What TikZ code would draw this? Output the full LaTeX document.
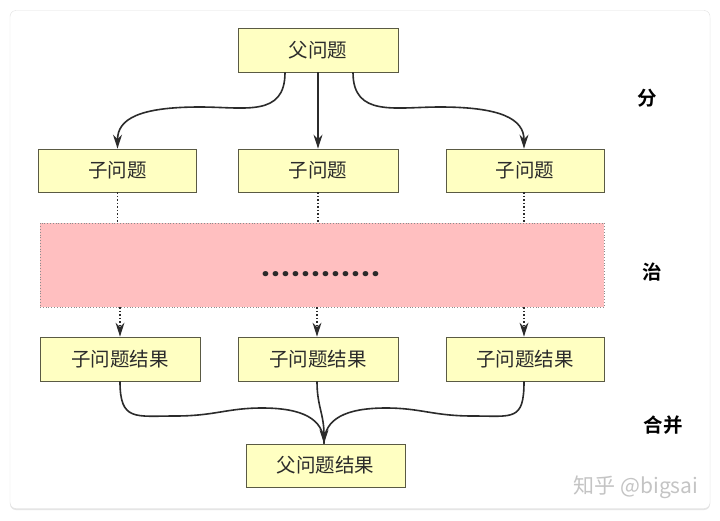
\documentclass[tikz,border=0pt]{standalone}
\usepackage{fontspec}
\newfontfamily\cjk{Noto Sans CJK SC}[BoldFont={Noto Sans CJK SC Bold}]
\newfontfamily\dotfont{Poppins}[BoldFont={Poppins Bold}]
\usetikzlibrary{arrows.meta,shadows,calc}
\definecolor{boxfill}{HTML}{FFFFC2}
\definecolor{boxline}{HTML}{5A5A44}
\definecolor{pinkfill}{HTML}{FFBFC0}
\definecolor{txt}{HTML}{2B2B2B}
\definecolor{wm}{HTML}{C4C4C4}
\newcommand\sdot{\makebox[10pt]{.}}
\tikzset{
  x=1pt, y=-1pt,
  probbox/.style={draw=boxline, line width=0.8pt, fill=boxfill, minimum height=44pt,
    inner sep=0pt, font=\cjk\fontsize{19.5}{19.5}\selectfont, text=txt},
  sidelabel/.style={font=\cjk\bfseries\fontsize{19.5}{19.5}\selectfont, text=black},
  conn/.style={line width=1.6pt, draw=txt, -{Stealth[length=14pt,width=9pt]}},
  dotconn/.style={line width=1.5pt, draw=txt, dotted},
  dotarrow/.style={line width=1.5pt, draw=txt, dotted, -{Stealth[length=14pt,width=9pt,line width=0pt]}},
}
\begin{document}
\begin{tikzpicture}
\useasboundingbox (0,0) rectangle (720,520);
\fill[white] (0,0) rectangle (720,520);
\node[draw=black!12, fill=white, rounded corners=6pt, minimum width=700pt, minimum height=498pt,
  drop shadow={shadow xshift=0pt, shadow yshift=-1.5pt, opacity=0.25, fill=black!40}] (card) at (360,259.5) {};

\node[probbox, minimum width=160pt] (top) at (318,50) {父问题};
\node[probbox, minimum width=158pt, minimum height=43pt] (s1) at (117.5,170.5) {子问题};
\node[probbox, minimum width=160pt, minimum height=43pt] (s2) at (318,170.5) {子问题};
\node[probbox, minimum width=158pt, minimum height=43pt] (s3) at (525,170.5) {子问题};

\node[draw=black!45, dotted, line width=0.8pt, fill=pinkfill, minimum width=564pt, minimum height=84pt,
  inner sep=0pt] (mid) at (322,265) {};
\node[font=\dotfont\bfseries\fontsize{28}{28}\selectfont, text=txt, inner sep=0pt, anchor=base] (dots) at (320.5,276)
  {\sdot\sdot\sdot\sdot\sdot\sdot\sdot\sdot\sdot\sdot\sdot\sdot};

\node[probbox, minimum width=160pt] (r1) at (120,359) {子问题结果};
\node[probbox, minimum width=160pt] (r2) at (318,359) {子问题结果};
\node[probbox, minimum width=158pt] (r3) at (525,359) {子问题结果};
\node[probbox, minimum width=159pt, minimum height=43pt] (fin) at (325.5,465.5) {父问题结果};

\node[sidelabel] (fen) at (647,98) {分};
\node[sidelabel] (zhi) at (652,272) {治};
\node[sidelabel] (he) at (663,425) {合并};
\node[font=\cjk\fontsize{21}{21}\selectfont, text=wm] (mark) at (636,487) {知乎 @bigsai};

% divide
\coordinate (tl) at ([xshift=-33pt]top.south);
\coordinate (tr) at ([xshift=35pt]top.south);
\draw[conn] (tl) .. controls +(0,45) and +(45,0) .. (200,107) .. controls +(-60,0) and +(0,-30) .. (s1.north);
\draw[conn] (top.south -| s2.north) -- (s2.north);
\draw[conn] (tr) .. controls +(0,45) and +(-45,0) .. (440,107) .. controls +(60,0) and +(0,-30) .. ([xshift=-1pt]s3.north);

% conquer
\draw[dotconn] (s1.south) -- (s1.south |- mid.north);
\draw[dotconn] (s2.south) -- (s2.south |- mid.north);
\draw[dotconn] ([xshift=-1pt]s3.south) -- ([xshift=-1pt]s3.south |- mid.north);
\draw[dotarrow] (r1.north |- mid.south) -- (r1.north);
\draw[dotarrow] ([xshift=-1pt]r2.north |- mid.south) -- ([xshift=-1pt]r2.north);
\draw[dotarrow] ([xshift=-1pt]r3.north |- mid.south) -- ([xshift=-1pt]r3.north);

% merge
\coordinate (tip) at ([xshift=-1.5pt]fin.north);
\draw[line width=1.6pt, draw=txt] (r1.south) .. controls +(0,40) and +(-40,0) .. (175,416) .. controls +(40,0) and +(-35,0) .. (262,408) .. controls +(40,0) and +(0,-25) .. (tip);
\draw[line width=1.6pt, draw=txt] ([xshift=-1pt]r3.south) .. controls +(0,40) and +(40,0) .. (473,416) .. controls +(-40,0) and +(35,0) .. (386,408) .. controls +(-40,0) and +(0,-25) .. (tip);
\draw[conn] ([xshift=-1pt]r2.south) .. controls +(0,25) and +(0,-30) .. (tip);
\end{tikzpicture}
\end{document}
